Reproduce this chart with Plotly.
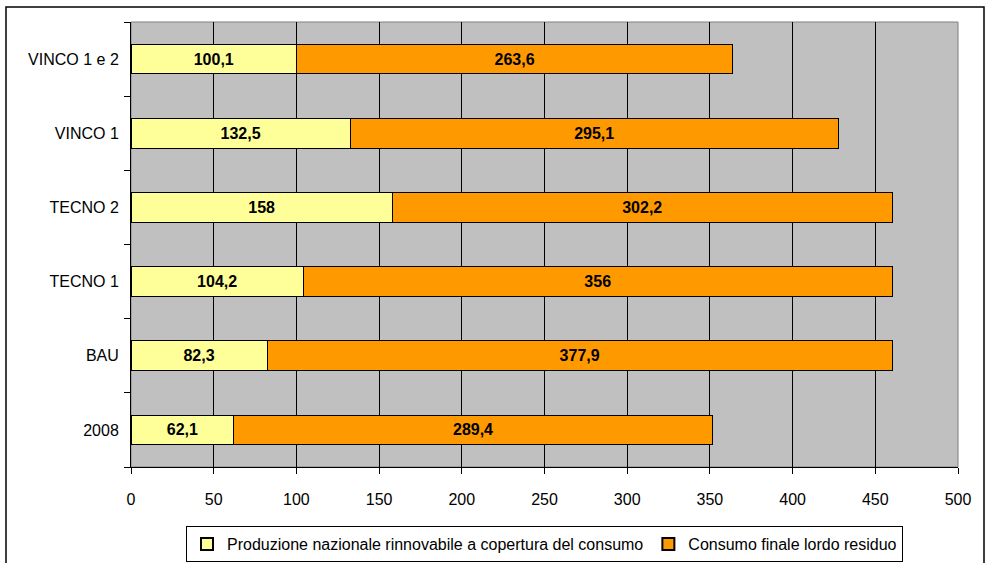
import plotly.graph_objects as go

categories = ["2008", "BAU", "TECNO 1", "TECNO 2", "VINCO 1", "VINCO 1 e 2"]
produzione = [62.1, 82.3, 104.2, 158, 132.5, 100.1]
consumo = [289.4, 377.9, 356, 302.2, 295.1, 263.6]
series_names = ["Produzione nazionale rinnovabile a copertura del consumo",
                "Consumo finale lordo residuo"]
x_ticks = [0, 50, 100, 150, 200, 250, 300, 350, 400, 450, 500]


def lab(vals):
    return [(f"{v:g}").replace(".", ",") for v in vals]


fig = go.Figure()
fig.add_trace(go.Bar(
    y=categories, x=produzione, orientation="h", name=series_names[0],
    marker=dict(color="#FFFF99", line=dict(color="black", width=1)),
    text=lab(produzione), textposition="inside", insidetextanchor="middle",
    textangle=0, constraintext="none",
    textfont=dict(family="Liberation Sans", size=16, color="black", weight="bold"),
))
fig.add_trace(go.Bar(
    y=categories, x=consumo, orientation="h", name=series_names[1],
    marker=dict(color="#FF9900", line=dict(color="black", width=1)),
    text=lab(consumo), textposition="inside", insidetextanchor="middle",
    textangle=0, constraintext="none",
    textfont=dict(family="Liberation Sans", size=16, color="black", weight="bold"),
))

L, R, T, B = 131, 28, 22, 96
W, H = 986, 563
pw, ph = W - L - R, H - T - B

fig.update_layout(
    width=W, height=H,
    barmode="stack", bargap=0.6,
    margin=dict(l=L, r=R, t=T, b=B, pad=0, autoexpand=False),
    paper_bgcolor="white", plot_bgcolor="#C0C0C0",
    font=dict(family="Liberation Sans", size=16, color="black"),
    showlegend=True,
    legend=dict(orientation="h", x=0.5, xanchor="center",
                y=(-(526 - (T + ph)) / ph), yanchor="top",
                bgcolor="white", bordercolor="black", borderwidth=1,
                font=dict(size=16), traceorder="normal",
                itemsizing="constant"),
    xaxis=dict(range=[0, 500], tickvals=x_ticks, showgrid=True,
               gridcolor="black", gridwidth=1, zeroline=False,
               showline=True, linecolor="black", linewidth=1,
               ticks="outside", ticklen=6, tickcolor="black",
               ticklabelstandoff=12, tickfont=dict(size=16),
               automargin=False),
    yaxis=dict(showgrid=False, showline=True, linecolor="black", linewidth=1,
               ticks="outside", ticklen=6, tickcolor="black",
               tickson="boundaries", tickfont=dict(size=16),
               ticklabelstandoff=8, automargin=False,
               range=[-0.5, 5.5]),
)

# plot area light border
fig.add_shape(type="rect", xref="paper", yref="paper", x0=0, x1=1, y0=0, y1=1,
              line=dict(color="#808080", width=1), layer="below")
# outer chart border
fig.add_shape(type="rect", xref="paper", yref="paper",
              x0=(6 - L) / pw, x1=(984 - L) / pw,
              y0=-(575 - (T + ph)) / ph, y1=1 + (T - 7) / ph,
              line=dict(color="black", width=1.5))

fig.write_html("out.html")
